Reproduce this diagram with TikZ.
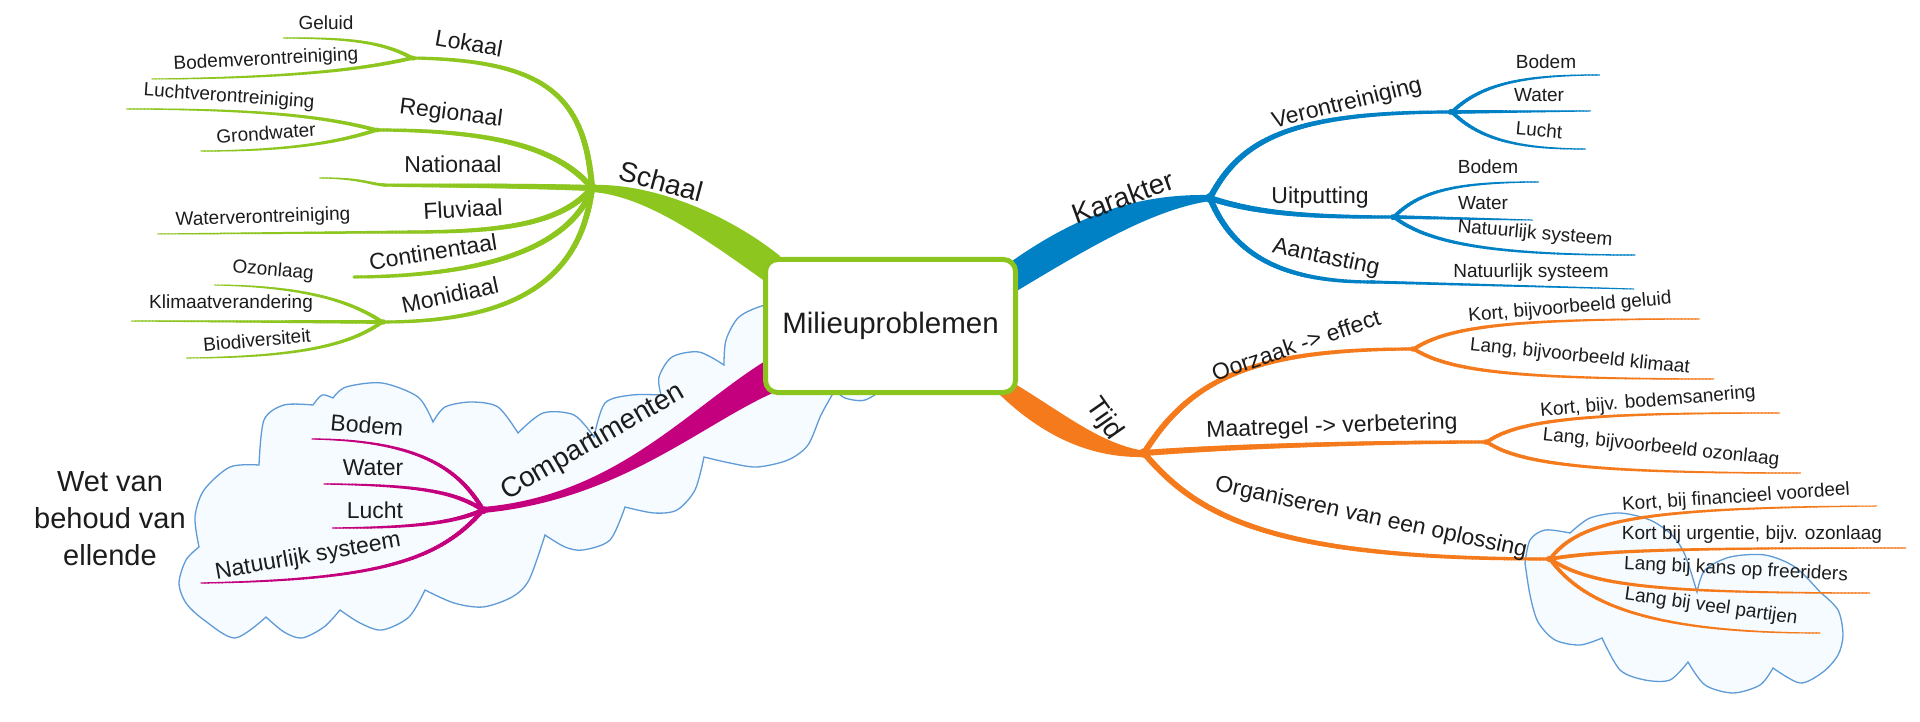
\documentclass[tikz,border=0pt]{standalone}
\usepackage{fontspec}
\setmainfont{Liberation Sans}
\usetikzlibrary{decorations.markings}
\definecolor{grn}{RGB}{141,198,30}
\definecolor{blu}{RGB}{0,129,198}
\definecolor{org}{RGB}{245,122,28}
\definecolor{mag}{RGB}{196,0,126}
\definecolor{cld}{RGB}{95,155,215}
\definecolor{cldfill}{RGB}{246,251,255}
\definecolor{txt}{RGB}{28,28,28}
\definecolor{boxg}{RGB}{140,196,30}
\tikzset{
  taper/.style n args={2}{decoration={markings,
      mark=between positions 0 and 1 step 3.5pt with {%
        \pgfmathsetmacro\rr{#1+(#2-#1)*\pgfkeysvalueof{/pgf/decoration/mark info/distance from start}/\pgfdecoratedpathlength}%
        \draw[line width=\rr pt, line cap=round] (-2pt,0pt) -- (2pt,0pt);}}, decorate},
  lvA/.style={taper={6}{3}},
  lvB/.style={taper={3.8}{1}},
  lvC/.style={taper={3}{1}},
  sm/.style={font=\fontsize{19}{22}\selectfont, text=txt, inner sep=0pt},
  md/.style={font=\fontsize{23}{26}\selectfont, text=txt, inner sep=0pt},
  lg/.style={font=\fontsize{28}{32}\selectfont, text=txt, inner sep=0pt},
  cloudy/.style={draw=cld, fill=cldfill, line width=1.3pt},
}
\begin{document}
\begin{tikzpicture}[x=1pt,y=-1pt]
\useasboundingbox (0,0) rectangle (1920,722);
\fill[white] (0,0) rectangle (1920,722);

% ---------- clouds ----------
\path[cloudy] plot[smooth] coordinates {(259,465) (264,420) (284,405) (313,405)}
 -- plot[smooth] coordinates {(313,405) (322,395) (333,398)}
 -- plot[smooth] coordinates {(333,398) (346,387) (382,383) (418,397) (433,422)}
 -- plot[smooth] coordinates {(433,422) (445,407) (471,402) (498,407) (518,433)}
 -- plot[smooth] coordinates {(518,433) (543,413) (574,415) (594,437)}
 -- plot[smooth] coordinates {(594,437) (605,403) (632,395) (661,395)}
 -- plot[smooth] coordinates {(661,395) (659,377) (672,357) (699,352) (724,365)}
 -- plot[smooth] coordinates {(724,365) (726,340) (739,317) (765,305) (800,300)}
 -- plot[smooth] coordinates {(800,300) (850,290) (890,320) (880,360)}
 -- plot[smooth] coordinates {(880,360) (885,385) (865,400) (845,398) (835,390)}
 -- plot[smooth] coordinates {(835,390) (821,415) (808,445) (788,460) (757,467) (730,463) (704,457)}
 -- plot[smooth] coordinates {(704,457) (695,490) (677,510) (654,513) (625,507)}
 -- plot[smooth] coordinates {(625,507) (610,540) (583,550) (565,547) (545,535)}
 -- plot[smooth] coordinates {(545,535) (529,580) (512,597) (483,607) (454,603) (425,590)}
 -- plot[smooth] coordinates {(425,590) (409,617) (382,630) (360,623) (340,610)}
 -- plot[smooth] coordinates {(340,610) (324,627) (302,638) (284,632) (266,617)}
 -- plot[smooth] coordinates {(266,617) (235,638) (204,620) (186,603) (179,583) (186,560) (199,547)}
 -- plot[smooth] coordinates {(199,547) (195,517) (204,490) (230,467) (259,465)}
 -- cycle;

\path[cloudy] plot[smooth] coordinates {(1525,563) (1530,540) (1545,530) (1570,533)}
 -- plot[smooth] coordinates {(1570,533) (1590,518) (1620,513) (1650,520) (1672,535) (1685,555) (1697,592)}
 -- plot[smooth] coordinates {(1697,592) (1705,570) (1730,557) (1765,555) (1795,567) (1820,592)}
 -- plot[smooth] coordinates {(1820,592) (1838,610) (1843,635) (1838,655) (1823,672) (1800,683) (1773,668)}
 -- plot[smooth] coordinates {(1773,668) (1760,685) (1733,693) (1705,685) (1688,662)}
 -- plot[smooth] coordinates {(1688,662) (1670,680) (1645,680) (1620,670) (1602,638)}
 -- plot[smooth] coordinates {(1602,638) (1580,645) (1555,640) (1538,622) (1530,595) (1525,563)}
 -- cycle;

% ---------- coordinates ----------
\coordinate (JS) at (592,188);
\coordinate (L1) at (412,58);   \coordinate (gGeluid) at (282,38); \coordinate (gBodem) at (151,79);
\coordinate (R1) at (376,130);  \coordinate (gLucht) at (127,109); \coordinate (gGrond) at (200,151);
\coordinate (gNat) at (384,185); \coordinate (gNatEnd) at (320,178);
\coordinate (gFlu) at (408,232); \coordinate (gFluEnd) at (157,234);
\coordinate (gCont) at (355,277);
\coordinate (M1) at (382,322);  \coordinate (gOzon) at (214,285); \coordinate (gKlim) at (131,321); \coordinate (gBio) at (188,358);

\coordinate (JK) at (1210,198);
\coordinate (V1) at (1452,112); \coordinate (bBodem1) at (1598,75); \coordinate (bWater1) at (1589,111); \coordinate (bLucht1) at (1585,149);
\coordinate (U1) at (1394,217); \coordinate (bBodem2) at (1539,182); \coordinate (bWater2) at (1531,220); \coordinate (bNat2) at (1635,255);
\coordinate (A1) at (1373,282); \coordinate (bNat3) at (1633,289);

\coordinate (JT) at (1144,453);
\coordinate (O1) at (1414,349); \coordinate (oK1) at (1698,319); \coordinate (oL1) at (1713,379);
\coordinate (M2) at (1487,442); \coordinate (oK2) at (1778,413); \coordinate (oL2) at (1801,473);
\coordinate (O2) at (1550,559); \coordinate (oK3) at (1875,506); \coordinate (oK4) at (1905,548);
\coordinate (oL3) at (1870,593); \coordinate (oL4) at (1820,633);

\coordinate (JC) at (483,510);
\coordinate (mBodem) at (311,439); \coordinate (mWater) at (324,484); \coordinate (mLucht) at (331,528); \coordinate (mNat) at (201,583);

% ---------- main branches ----------
\fill[grn] (592,185) .. controls (650,183) and (725,212) .. (780,256) -- (780,292) .. controls (715,246) and (650,196) .. (592,192) -- cycle;
\fill[blu] (1005,266) .. controls (1080,212) and (1140,194) .. (1210,195) -- (1210,201) .. controls (1150,210) and (1085,250) .. (1005,298) -- cycle;
\fill[org] (1005,378) .. controls (1060,410) and (1100,445) .. (1146,451) -- (1144,457) .. controls (1095,458) and (1045,440) .. (995,390) -- cycle;
\fill[mag] (775,355) .. controls (690,405) and (620,495) .. (483,507) -- (483,513) .. controls (620,500) and (700,425) .. (775,392) -- cycle;

% ---------- green sub-branches ----------
\begin{scope}[grn]
\path[lvA] (JS) .. controls (585,95) and (545,60) .. (L1);
\path[lvB] (L1) .. controls (380,40) and (340,38) .. (gGeluid);
\path[lvB] (L1) .. controls (370,68) and (300,78) .. (gBodem);
\path[lvA] (JS) .. controls (560,150) and (500,130) .. (R1);
\path[lvB] (R1) .. controls (330,118) and (270,109) .. (gLucht);
\path[lvB] (R1) .. controls (340,142) and (290,151) .. (gGrond);
\path[lvA] (JS) .. controls (500,185) and (420,186) .. (gNat);
\path[lvC] (gNat) .. controls (370,184) and (360,178) .. (gNatEnd);
\path[lvA] (JS) .. controls (560,225) and (500,232) .. (gFlu);
\path[lvC] (gFlu) -- (gFluEnd);
\path[lvA] (JS) .. controls (570,250) and (480,276) .. (gCont);
\path[lvA] (JS) .. controls (580,290) and (500,322) .. (M1);
\path[lvB] (M1) .. controls (350,300) and (300,286) .. (gOzon);
\path[lvB] (M1) -- (gKlim);
\path[lvB] (M1) .. controls (350,345) and (300,357) .. (gBio);
\end{scope}

% ---------- blue sub-branches ----------
\begin{scope}[blu]
\path[lvA] (JK) .. controls (1240,140) and (1290,112) .. (V1);
\path[lvB] (V1) .. controls (1480,85) and (1520,75) .. (bBodem1);
\path[lvB] (V1) -- (bWater1);
\path[lvB] (V1) .. controls (1480,140) and (1520,149) .. (bLucht1);
\path[lvA] (JK) .. controls (1260,215) and (1320,217) .. (U1);
\path[lvB] (U1) .. controls (1420,190) and (1460,182) .. (bBodem2);
\path[lvB] (U1) -- (bWater2);
\path[lvB] (U1) .. controls (1430,245) and (1500,255) .. (bNat2);
\path[lvA] (JK) .. controls (1235,260) and (1290,282) .. (A1);
\path[lvC] (A1) -- (bNat3);
\end{scope}

% ---------- orange sub-branches ----------
\begin{scope}[org]
\path[lvA] (JT) .. controls (1190,380) and (1250,349) .. (O1);
\path[lvB] (O1) .. controls (1450,325) and (1520,319) .. (oK1);
\path[lvB] (O1) .. controls (1450,372) and (1520,379) .. (oL1);
\path[lvA] (JT) .. controls (1250,445) and (1400,442) .. (M2);
\path[lvB] (M2) .. controls (1520,418) and (1600,413) .. (oK2);
\path[lvB] (M2) .. controls (1520,465) and (1600,473) .. (oL2);
\path[lvA] (JT) .. controls (1200,520) and (1280,559) .. (O2);
\path[lvB] (O2) .. controls (1580,520) and (1640,508) .. (oK3);
\path[lvB] (O2) .. controls (1600,550) and (1700,548) .. (oK4);
\path[lvB] (O2) .. controls (1590,585) and (1650,593) .. (oL3);
\path[lvB] (O2) .. controls (1580,600) and (1640,633) .. (oL4);
\end{scope}

% ---------- magenta sub-branches ----------
\begin{scope}[mag]
\path[taper={4.4}{1.2}] (JC) .. controls (460,470) and (420,440) .. (mBodem);
\path[taper={4.4}{1.2}] (JC) .. controls (455,492) and (420,485) .. (mWater);
\path[taper={4.4}{1.2}] (JC) .. controls (455,522) and (420,528) .. (mLucht);
\path[taper={4.4}{1.2}] (JC) .. controls (440,560) and (380,580) .. (mNat);
\end{scope}

% ---------- central topic ----------
\node[draw=boxg, line width=5pt, rounded corners=12pt, fill=white, minimum width=250pt, minimum height=133pt,
      font=\fontsize{29.5}{34}\selectfont, text=txt] (root) at (890.5,326) {Milieuproblemen};

% ---------- texts ----------
\node[lg,rotate=-15] (tSchaal) at (661,181) {Schaal};
\node[md,rotate=-10] (tLokaal) at (469,43) {Lokaal};
\node[sm] (tGeluid) at (326,23) {Geluid};
\node[sm,rotate=3] (tBodemv) at (266,60) {Bodemverontreiniging};
\node[md,rotate=-7] (tRegio) at (451,114) {Regionaal};
\node[sm,rotate=-4] (tLuchtv) at (229,97) {Luchtverontreiniging};
\node[sm,rotate=4] (tGrond) at (266,133) {Grondwater};
\node[md] (tNatio) at (453,164) {Nationaal};
\node[md,rotate=3] (tFluv) at (463,209) {Fluviaal};
\node[sm,rotate=2] (tWaterv) at (263,218) {Waterverontreiniging};
\node[md,rotate=9] (tCont) at (433,252) {Continentaal};
\node[md,rotate=12] (tMoni) at (450,295) {Monidiaal};
\node[sm,rotate=-5] (tOzon) at (273,271) {Ozonlaag};
\node[sm] (tKlim) at (231,304) {Klimaatverandering};
\node[sm,rotate=5] (tBio) at (257,340) {Biodiversiteit};

\node[lg,rotate=20] (tKar) at (1123,197) {Karakter};
\node[md,rotate=14] (tVer) at (1347,104) {Verontreiniging};
\node[sm] (tB1) at (1546,62) {Bodem};
\node[sm] (tW1) at (1539,95) {Water};
\node[sm,rotate=-5] (tL1) at (1539,130) {Lucht};
\node[md] (tUit) at (1320,198) {Uitputting};
\node[sm] (tB2) at (1488,167) {Bodem};
\node[sm] (tW2) at (1483,203) {Water};
\node[sm,rotate=-5] (tN2) at (1535,234) {Natuurlijk systeem};
\node[md,rotate=-12] (tAan) at (1326,258) {Aantasting};
\node[sm] (tN3) at (1531,273) {Natuurlijk systeem};

\node[lg,rotate=-55] (tTijd) at (1104,419) {Tijd};
\node[md,rotate=19] (tOor) at (1296,345) {Oorzaak -> effect};
\node[sm,rotate=5] (tK1) at (1570,308) {Kort, bijvoorbeeld geluid};
\node[sm,rotate=-6] (tLa1) at (1580,357) {Lang, bijvoorbeeld klimaat};
\node[md,rotate=2] (tMaat) at (1332,427) {Maatregel -> verbetering};
\node[sm,rotate=5] (tK2) at (1648,402) {Kort, bijv. bodemsanering};
\node[sm,rotate=-6] (tLa2) at (1661,448) {Lang, bijvoorbeeld ozonlaag};
\node[md,rotate=-12] (tOrg) at (1371,518) {Organiseren van een oplossing};
\node[sm,rotate=4] (tK3) at (1736,498) {Kort, bij financieel voordeel};
\node[sm] (tK4) at (1752,535) {Kort bij urgentie, bijv. ozonlaag};
\node[sm,rotate=-3] (tLa3) at (1736,570) {Lang bij kans op freeriders};
\node[sm,rotate=-8] (tLa4) at (1711,607) {Lang bij veel partijen};

\node[lg,rotate=30] (tComp) at (593,442) {Compartimenten};
\node[md,rotate=-5] (tmB) at (367,425) {Bodem};
\node[md] (tmW) at (373,468) {Water};
\node[md] (tmL) at (375,510) {Lucht};
\node[md,rotate=10] (tmN) at (308,557) {Natuurlijk systeem};

\node[align=center, font=\fontsize{29}{37}\selectfont, text=txt, inner sep=0pt] (wet) at (110,519) {Wet van\\behoud van\\ellende};
\end{tikzpicture}
\end{document}
